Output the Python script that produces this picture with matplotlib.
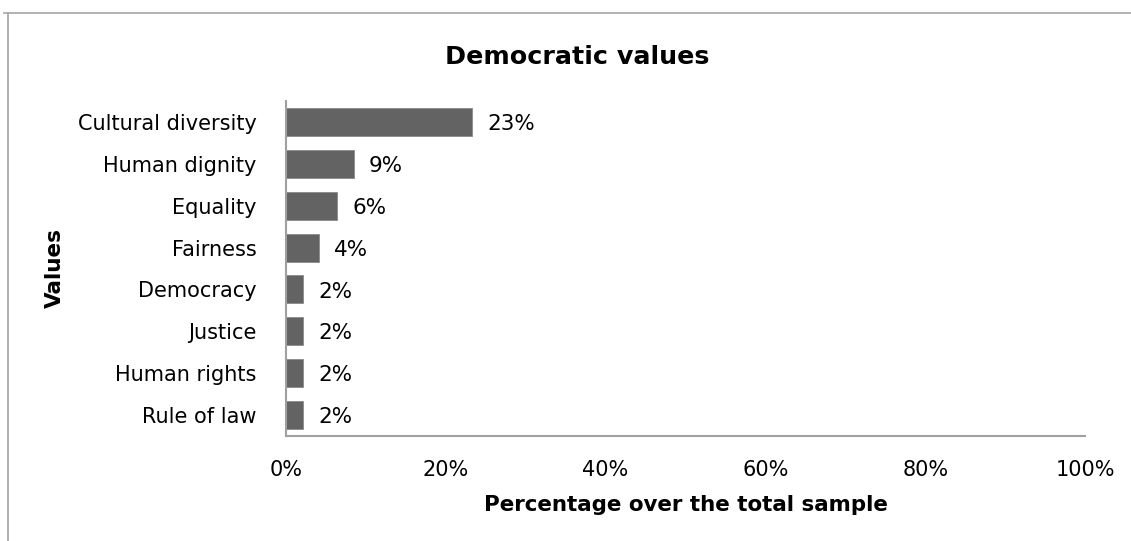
import numpy as np
import matplotlib.pyplot as plt
from matplotlib import rcParams
from matplotlib.lines import Line2D
from matplotlib.ticker import PercentFormatter

rcParams['font.family'] = ['DejaVu Sans']
rcParams['font.size'] = 15

categories = ['Cultural diversity', 'Human dignity', 'Equality', 'Fairness',
              'Democracy', 'Justice', 'Human rights', 'Rule of law']
shares = [23.3, 8.5, 6.4, 4.1, 2.1, 2.1, 2.1, 2.1]
labels = ['23%', '9%', '6%', '4%', '2%', '2%', '2%', '2%']
xticks = [0, 20, 40, 60, 80, 100]

W, H = 1131, 541
fig = plt.figure(figsize=(W / 100, H / 100), dpi=100)
ax = fig.add_axes([286 / W, 1 - 436 / H, (1085 - 286) / W, (436 - 101) / H])

ypos = np.arange(len(categories))
ax.barh(ypos, shares, height=0.67, color='#636363', edgecolor='#8a8a8a', linewidth=0.6)
for y, v, t in zip(ypos, shares, labels):
    ax.text(v + 1.9, y + 0.05, t, va='center', ha='left', fontsize=15.5)

ax.set_ylim(len(categories) - 0.5, -0.5)
ax.set_xlim(0, 100)
ax.set_yticks(ypos)
ax.set_yticklabels(categories)
ax.set_xticks(xticks)
ax.xaxis.set_major_formatter(PercentFormatter(decimals=0))
ax.tick_params(axis='both', length=0, labelsize=15)
ax.tick_params(axis='x', pad=17)
ax.tick_params(axis='y', pad=21)
for s in ['top', 'right']:
    ax.spines[s].set_visible(False)
for s in ['left', 'bottom']:
    ax.spines[s].set_color('#a0a0a0')
    ax.spines[s].set_linewidth(1.5)

ax.set_xlabel('Percentage over the total sample', fontweight='bold', fontsize=15.4, labelpad=11)
fig.text(577 / W, 1 - 57 / H, 'Democratic values', ha='center', va='center',
         fontweight='bold', fontsize=18.3)
fig.text(55 / W, 1 - 268 / H, 'Values', ha='center', va='center', rotation=90,
         fontweight='bold', fontsize=15.5)

# outer chart frame
fig.add_artist(Line2D([4 / W, 1], [1 - 13 / H, 1 - 13 / H], color='#a6a6a6', lw=1.2))
fig.add_artist(Line2D([8 / W, 8 / W], [1 - 13 / H, 0], color='#a6a6a6', lw=1.2))

fig.savefig('out.png', dpi=100)
